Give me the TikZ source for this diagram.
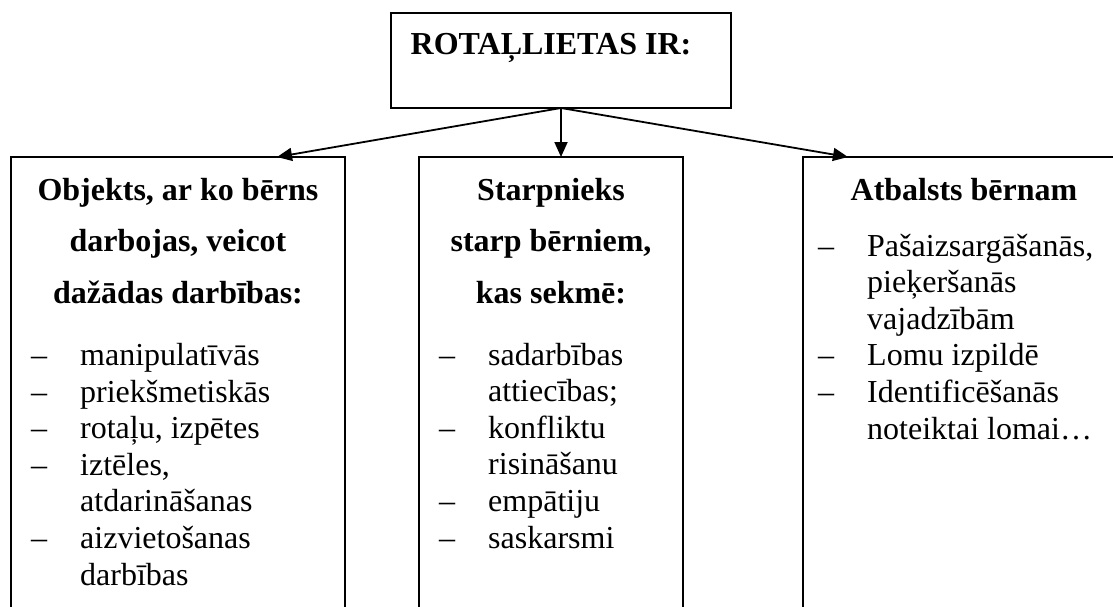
\documentclass[tikz,border=0pt]{standalone}
\usepackage{fontspec}
\setmainfont{Liberation Serif}
\usetikzlibrary{arrows.meta}
\newcommand{\dl}{\makebox[49pt][l]{–}}
\newcommand{\nl}{\hspace*{49pt}}
\newcommand{\tightls}{\lineskiplimit-100pt\relax}
\begin{document}
\begin{tikzpicture}[x=1pt,y=-1pt,
  box/.style={draw, line width=1.8pt, inner sep=0pt, outer sep=0pt},
  arr/.style={line width=1.8pt, -{Triangle[length=15pt,width=13pt]}},
  hd/.style={font={\fontsize{32}{51.5}\selectfont\bfseries\tightls}, align=center, anchor=base, inner sep=0pt},
  lst/.style={font={\fontsize{32}{36.6}\selectfont\tightls}, align=left, anchor=base west, inner sep=0pt}]
\useasboundingbox (0,0) rectangle (1113,607);
\clip (0,0) rectangle (1113,607);
\fill[white] (0,0) rectangle (1113,607);
% boxes
\node[box, minimum width=340pt, minimum height=95pt, anchor=north west] (top) at (391,13) {};
\node[box, minimum width=334pt, minimum height=480pt, anchor=north west] (left) at (11,157) {};
\node[box, minimum width=264pt, minimum height=480pt, anchor=north west] (mid) at (419,157) {};
\node[box, minimum width=322pt, minimum height=480pt, anchor=north west] (right) at (803,157) {};
% title
\node[hd] (title) at (551,55) {ROTAĻLIETAS IR:};
% connectors
\draw[arr] (top.south) -- ([xshift=99pt]left.north);
\draw[arr] (top.south) -- (top.south |- mid.north);
\draw[arr] (top.south) -- ([xshift=-116pt]right.north);
% left column (anchored at the baseline of the last line)
\node[hd] (lhead) at (178,303) {Objekts, ar ko bērns\\darbojas, veicot\\dažādas darbības:};
\node[lst] (llist) at (31,585) {\dl manipulatīvās\\\dl priekšmetiskās\\\dl rotaļu, izpētes\\\dl iztēles,\\\nl atdarināšanas\\\dl aizvietošanas\\\nl darbības};
% middle column
\node[hd] (mhead) at (551,303) {Starpnieks\\starp bērniem,\\kas sekmē:};
\node[lst] (mlist) at (439,548) {\dl sadarbības\\\nl attiecības;\\\dl konfliktu\\\nl risināšanu\\\dl empātiju\\\dl saskarsmi};
% right column
\node[hd] (rhead) at (964,200) {Atbalsts bērnam};
\node[lst] (rlist) at (818,439) {\dl Pašaizsargāšanās,\\\nl pieķeršanās\\\nl vajadzībām\\\dl Lomu izpildē\\\dl Identificēšanās\\\nl noteiktai lomai…};
\end{tikzpicture}
\end{document}
